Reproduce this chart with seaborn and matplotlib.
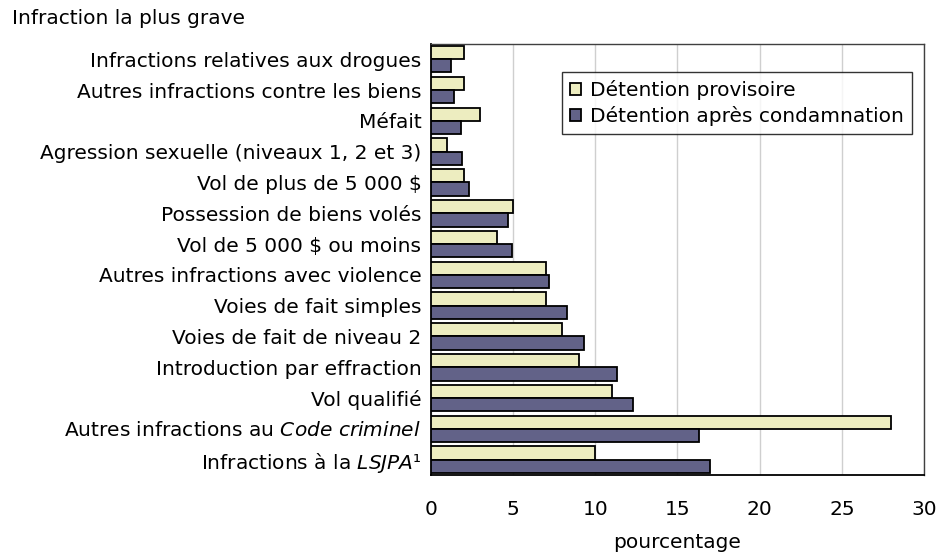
import pandas as pd
import matplotlib.pyplot as plt
import seaborn as sns

categories = [
    'Infractions relatives aux drogues',
    'Autres infractions contre les biens',
    'Méfait',
    'Agression sexuelle (niveaux 1, 2 et 3)',
    'Vol de plus de 5 000 $',
    'Possession de biens volés',
    'Vol de 5 000 $ ou moins',
    'Autres infractions avec violence',
    'Voies de fait simples',
    'Voies de fait de niveau 2',
    'Introduction par effraction',
    'Vol qualifié',
    'Autres infractions au $\\mathit{Code\\ criminel}$',
    'Infractions à la $\\mathit{LSJPA}$¹',
]
provisoire = [2.0, 2.0, 3.0, 1.0, 2.0, 5.0, 4.0, 7.0, 7.0, 8.0, 9.0, 11.0, 28.0, 10.0]
condamnation = [1.2, 1.4, 1.8, 1.9, 2.3, 4.7, 4.9, 7.2, 8.3, 9.3, 11.3, 12.3, 16.3, 17.0]
series = ['Détention provisoire', 'Détention après condamnation']
colors = ['#f4f4b8', '#5c5c8e']
xticks = [0, 5, 10, 15, 20, 25, 30]

df = pd.DataFrame({
    'infraction': categories * 2,
    'valeur': provisoire + condamnation,
    'serie': [series[0]] * len(categories) + [series[1]] * len(categories),
})

FS = 14.5

sns.set_style('white')
plt.rcParams['font.family'] = ['DejaVu Sans']
plt.rcParams['mathtext.fontset'] = 'custom'
plt.rcParams['mathtext.it'] = 'DejaVu Sans:italic'
plt.rcParams['mathtext.rm'] = 'DejaVu Sans'
plt.rcParams['text.color'] = 'black'
plt.rcParams['xtick.color'] = 'black'
plt.rcParams['ytick.color'] = 'black'
plt.rcParams['axes.labelcolor'] = 'black'

fig = plt.figure(figsize=(9.39, 5.55), dpi=100)
ax = fig.add_axes([0.459, 0.144, 0.525, 0.777])

sns.barplot(data=df, x='valeur', y='infraction', hue='serie', orient='h',
            palette=dict(zip(series, colors)), width=0.86,
            edgecolor='black', linewidth=1.3, ax=ax, zorder=3)

ax.set_xlim(0, 30)
ax.set_ylim(len(categories) - 0.5, -0.5)
ax.set_xticks(xticks)
ax.set_xticklabels([str(t) for t in xticks], fontsize=FS)
ax.tick_params(axis='x', length=0, pad=18)
ax.tick_params(axis='y', which='major', length=0, labelsize=FS, pad=7)
ax.set_yticks([i + 0.5 for i in range(-1, len(categories))], minor=True)
ax.tick_params(axis='y', which='minor', length=6, width=1, color='black')
ax.xaxis.grid(True, color='#cfcfcf', linewidth=1)
ax.set_axisbelow(True)

for side in ['left', 'bottom']:
    ax.spines[side].set_color('black')
    ax.spines[side].set_linewidth(1.3)
for side in ['top', 'right']:
    ax.spines[side].set_color('#404040')
    ax.spines[side].set_linewidth(1)

ax.set_ylabel('')
ax.set_xlabel('pourcentage', fontsize=FS, labelpad=10)

leg = ax.legend(loc='upper right', bbox_to_anchor=(0.976, 0.935), fontsize=FS,
                frameon=True, fancybox=False, edgecolor='black', handlelength=0.55,
                handleheight=0.55, handletextpad=0.45, borderpad=0.4, labelspacing=0.3,
                borderaxespad=0)
leg.get_frame().set_linewidth(1)

fig.text(0.013, 0.966, 'Infraction la plus grave', fontsize=FS, va='center', ha='left')

fig.savefig('out.png', dpi=100)
plt.close(fig)
